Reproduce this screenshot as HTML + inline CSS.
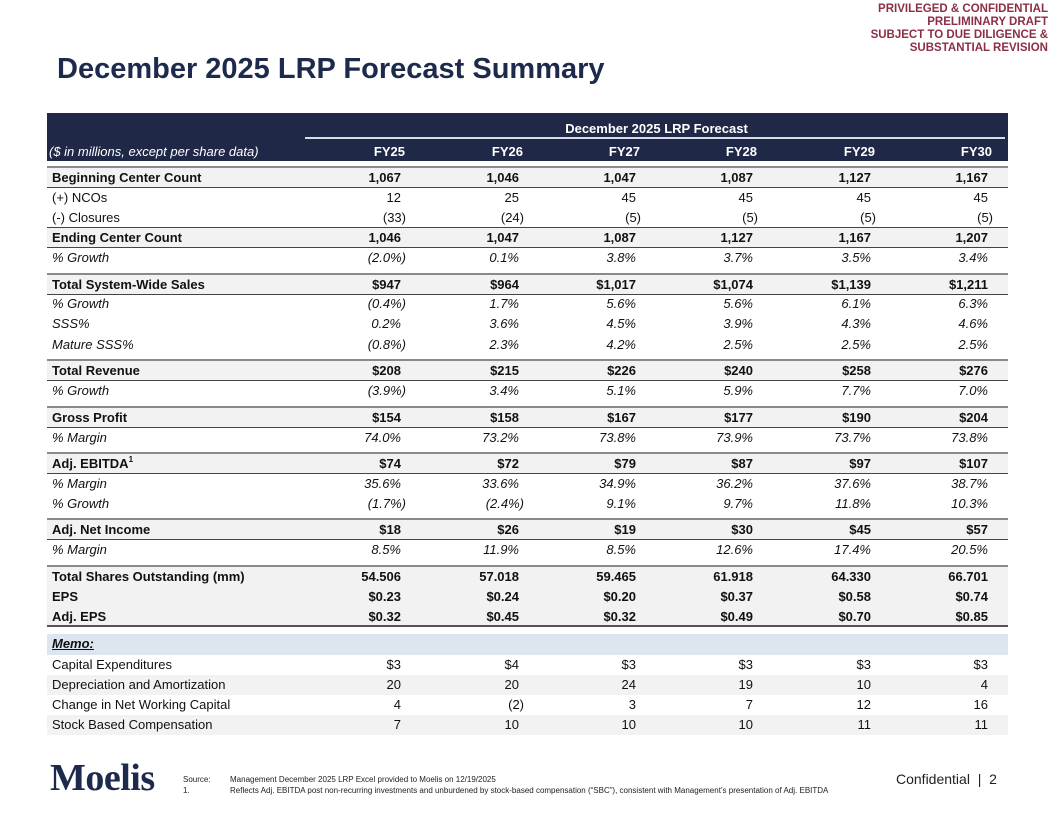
<!DOCTYPE html>
<html><head><meta charset="utf-8">
<style>
*{margin:0;padding:0;box-sizing:border-box}
body{width:1056px;height:816px;background:#fff;font-family:"Liberation Sans",Arial,sans-serif;position:relative;overflow:hidden;color:#111}
.abs{position:absolute}
#conf{right:8px;top:3px;text-align:right;color:#8c2f45;font-weight:bold;font-size:11.5px;line-height:13px}
#title{left:57px;top:53px;font-size:29px;font-weight:bold;color:#1e2a4c}
#hdr{left:47px;top:113px;width:961px;height:48px;background:#1f2847;color:#fff}
.row{position:absolute;left:47px;width:961px;height:20px;font-size:13px;line-height:20px}
.row .lbl{position:absolute;left:5px;top:0;white-space:nowrap}
.row .v{position:absolute;top:0;text-align:right;width:100px;white-space:nowrap}
.shade{background:#f2f2f2}
.bold{font-weight:bold}
.ital{font-style:italic}
.botline{border-bottom:1px solid #444}
#footer-src{left:183px;top:774px;font-size:8px;line-height:11px;color:#222}
</style></head><body>
<div id="conf" class="abs">PRIVILEGED &amp; CONFIDENTIAL<br>PRELIMINARY DRAFT<br>SUBJECT TO DUE DILIGENCE &amp;<br>SUBSTANTIAL REVISION</div>
<div id="title" class="abs">December 2025 LRP Forecast Summary</div>
<div id="hdr" class="abs">
  <div class="abs" style="left:258px;width:703px;top:8px;text-align:center;font-weight:bold;font-size:13px">December 2025 LRP Forecast</div>
  <div class="abs" style="left:258px;width:700px;top:24px;height:2px;background:#d8dce6"></div>
  <div class="abs" style="left:2px;top:31px;font-style:italic;font-size:13px">($ in millions, except per share data)</div>
  <div id="yrs"></div>
</div>
<div id="tbl"></div>
<div class="abs" style="left:50px;top:756px;font-family:'Liberation Serif',serif;font-weight:bold;font-size:38px;color:#1e2a4c;letter-spacing:-0.5px">Moelis</div>
<div id="footer-src" class="abs">
<div><span style="display:inline-block;width:47px">Source:</span>Management December 2025 LRP Excel provided to Moelis on 12/19/2025</div>
<div><span style="display:inline-block;width:47px">1.</span>Reflects Adj. EBITDA post non-recurring investments and unburdened by stock-based compensation (“SBC”), consistent with Management’s presentation of Adj. EBITDA</div>
</div>
<div class="abs" style="left:896px;top:771px;font-size:14px;color:#222">Confidential &nbsp;|&nbsp; 2</div>
<script>
const years=["FY25","FY26","FY27","FY28","FY29","FY30"];
const rowLabels=["Beginning Center Count","(+) NCOs","(-) Closures","Ending Center Count","% Growth","Total System-Wide Sales","% Growth","SSS%","Mature SSS%","Total Revenue","% Growth","Gross Profit","% Margin","Adj. EBITDA","% Margin","% Growth","Adj. Net Income","% Margin","Total Shares Outstanding (mm)","EPS","Adj. EPS","Memo:","Capital Expenditures","Depreciation and Amortization","Change in Net Working Capital","Stock Based Compensation"];
const rowValues=[
["1,067","1,046","1,047","1,087","1,127","1,167"],
["12","25","45","45","45","45"],
["(33)","(24)","(5)","(5)","(5)","(5)"],
["1,046","1,047","1,087","1,127","1,167","1,207"],
["(2.0%)","0.1%","3.8%","3.7%","3.5%","3.4%"],
["$947","$964","$1,017","$1,074","$1,139","$1,211"],
["(0.4%)","1.7%","5.6%","5.6%","6.1%","6.3%"],
["0.2%","3.6%","4.5%","3.9%","4.3%","4.6%"],
["(0.8%)","2.3%","4.2%","2.5%","2.5%","2.5%"],
["$208","$215","$226","$240","$258","$276"],
["(3.9%)","3.4%","5.1%","5.9%","7.7%","7.0%"],
["$154","$158","$167","$177","$190","$204"],
["74.0%","73.2%","73.8%","73.9%","73.7%","73.8%"],
["$74","$72","$79","$87","$97","$107"],
["35.6%","33.6%","34.9%","36.2%","37.6%","38.7%"],
["(1.7%)","(2.4%)","9.1%","9.7%","11.8%","10.3%"],
["$18","$26","$19","$30","$45","$57"],
["8.5%","11.9%","8.5%","12.6%","17.4%","20.5%"],
["54.506","57.018","59.465","61.918","64.330","66.701"],
["$0.23","$0.24","$0.20","$0.37","$0.58","$0.74"],
["$0.32","$0.45","$0.32","$0.49","$0.70","$0.85"],
["","","","","",""],
["$3","$4","$3","$3","$3","$3"],
["20","20","24","19","10","4"],
["4","(2)","3","7","12","16"],
["7","10","10","10","11","11"]];
const styles="bnnbibiiibibibiibibbbmnnnn";
const tops=[168,188,208,228,248,275,294,314,335,361,381,408,428,454,474,494,520,540,567,587,607,634,655,675,695,715];
const colRight=[401,519,636,753,871,988];
const yrs=document.getElementById('yrs');
years.forEach((y,i)=>{
  const d=document.createElement('div');
  
  
  d.className='abs';
  d.style.cssText=`top:31px;left:${colRight[i]+4-47-100}px;width:100px;text-align:right;font-weight:bold;font-size:13px`;
  d.textContent=y;yrs.appendChild(d);
});
const tbl=document.getElementById('tbl');
const groupStarts=[0,5,9,11,13,16,18];
rowLabels.forEach((lab,r)=>{
  const s=styles[r];
  const row=document.createElement('div');
  
  
  let cls='row';
  if(s==='b'){cls+=' shade bold';}
  if(s==='i')cls+=' ital';
  if(s==='m'){cls+=' ital bold';}
  if(r>=22 && r%2===1)cls+=' shade';
  if(s==='b' && r<18)cls+=' botline';
  if(r===2||r===20)cls+=' botline';
  row.className=cls;
  row.style.top=tops[r]+'px';
  if(s==='m'){row.style.background='#dde5ef';row.style.height='21px';}
  if(groupStarts.includes(r)){row.style.borderTop='2px solid #8a8a8a';row.style.top=(tops[r]-2)+'px';row.style.height='22px';}
  if(r===20){row.style.borderBottom='2px solid #555';}
  const l=document.createElement('div');
  l.className='lbl';
  
  
  if(s==='m'){l.innerHTML='<u>Memo:</u>';}
  else if(lab==='Adj. EBITDA'){l.innerHTML='Adj. EBITDA<sup style="font-size:8px;vertical-align:6px;line-height:0">1</sup>';}
  else l.textContent=lab;
  row.appendChild(l);
  rowValues[r].forEach((v,c)=>{
    const d=document.createElement('div');
    d.className='v';
    
    
    const hang=v.endsWith(')')?5:0;
    d.style.left=(colRight[c]-47-100+hang)+'px';
    d.textContent=v;
    row.appendChild(d);
  });
  tbl.appendChild(row);
});
</script>
</body></html>
